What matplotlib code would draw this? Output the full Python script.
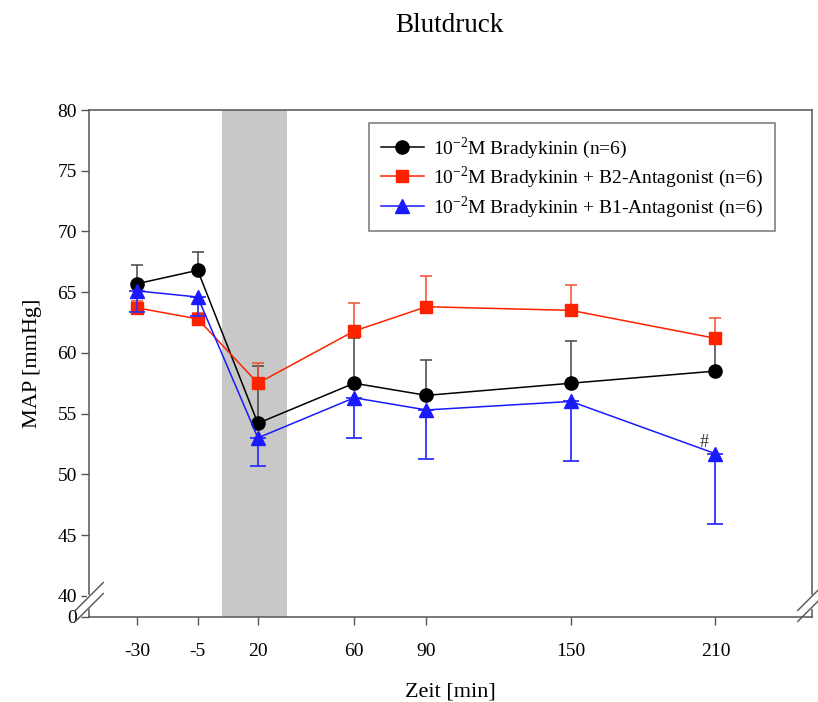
import matplotlib
matplotlib.use("Agg")
from matplotlib import pyplot as plt

plt.rcParams['font.family'] = ['Liberation Serif', 'DejaVu Serif']
plt.rcParams['mathtext.fontset'] = 'custom'
plt.rcParams['mathtext.rm'] = 'Liberation Serif'

# time points [min]
zeit = [-30, -5, 20, 60, 90, 150, 210]

# MAP [mmHg], mean values
bk = [65.7, 66.8, 54.2, 57.5, 56.5, 57.5, 58.5]
bk_b2 = [63.7, 62.8, 57.5, 61.8, 63.8, 63.5, 61.2]
bk_b1 = [65.1, 64.6, 53.0, 56.3, 55.3, 56.0, 51.7]

# one-sided error bars
bk_err = [1.5, 1.5, 4.7, 3.7, 2.9, 3.5, 2.8]      # upwards
bk_b2_err = [0.6, 0.5, 1.7, 2.3, 2.5, 2.1, 1.7]   # upwards
bk_b1_err = [1.7, 1.6, 2.3, 3.3, 4.0, 4.9, 5.8]   # downwards

zero = [0] * len(zeit)

labels = ['10$^{-2}$M Bradykinin (n=6)',
          '10$^{-2}$M Bradykinin + B2-Antagonist (n=6)',
          '10$^{-2}$M Bradykinin + B1-Antagonist (n=6)']

# y axis is broken between 0 and 40
y_bottom = 38.25

fig = plt.figure(figsize=(8.18, 7.02), dpi=100)
ax = fig.add_axes([0.1092, 0.1211, 0.8831, 0.7222])

ax.axvspan(5, 32, color='#c8c8c8', zorder=0, lw=0)

c1 = ax.errorbar(zeit, bk, yerr=[zero, bk_err], color='black', ecolor='#444444',
                 marker='o', ms=9.5, lw=1.1, elinewidth=1.1, capsize=4, capthick=1.1,
                 zorder=3)
c2 = ax.errorbar(zeit, bk_b2, yerr=[zero, bk_b2_err], color='#ff2200', ecolor='#f05030',
                 marker='s', ms=8.5, lw=1.1, elinewidth=1.1, capsize=4, capthick=1.1,
                 zorder=4)
c3 = ax.errorbar(zeit, bk_b1, yerr=[bk_b1_err, zero], color='#1a1aff', ecolor='#3030ff',
                 marker='^', ms=9.5, lw=1.1, elinewidth=1.3, capsize=6, capthick=1.3,
                 zorder=5)

ax.annotate('#', xy=(zeit[-1], bk_b1[-1]), xytext=(-8, 2), textcoords='offset points',
            ha='center', va='bottom', fontsize=13, color='#333333')

ax.set_xlim(-50, 250)
ax.set_ylim(y_bottom, 80)
ax.set_xticks(zeit)
ax.set_xticklabels([str(t) for t in zeit])
yt = [y_bottom] + list(range(40, 81, 5))
ax.set_yticks(yt)
ax.set_yticklabels(['0'] + [str(v) for v in range(40, 81, 5)])
ax.tick_params(axis='both', direction='out', length=6, width=1, color='#555555',
               labelsize=14)
ax.tick_params(axis='x', pad=13)
ax.tick_params(axis='y', pad=3)
for s in ax.spines.values():
    s.set_color('#555555')
    s.set_linewidth(1.1)

ax.set_xlabel('Zeit [min]', fontsize=16, labelpad=16)
ax.set_ylabel('MAP [mmHg]', fontsize=16, labelpad=11)

fig.text(0.549, 1 - 25 / 702, 'Blutdruck', ha='center', va='center', fontsize=19.5)

# break marks on both y spines
ax_h = 0.7222 * 702
ax_w = 0.8831 * 818
yc = 15 / ax_h
dy = 5.5 / ax_h
dx = 14 / ax_w
sy = 14 / ax_h
for xs in (0, 1):
    ax.plot([xs, xs], [yc - dy * 0.9, yc + dy * 0.9], transform=ax.transAxes,
            color='white', lw=3, clip_on=False, zorder=6)
    for off in (-dy, dy):
        ax.plot([xs - dx, xs + dx], [yc + off - sy, yc + off + sy],
                transform=ax.transAxes, color='#555555', lw=1, clip_on=False, zorder=7)

handles = [c1.lines[0], c2.lines[0], c3.lines[0]]
leg = ax.legend(handles, labels, loc='upper right', bbox_to_anchor=(0.949, 0.974),
                borderaxespad=0, fontsize=14, frameon=True, fancybox=False,
                edgecolor='#555555', handlelength=2.2, handletextpad=0.5,
                borderpad=0.6, labelspacing=0.2)
leg.get_frame().set_linewidth(1.1)

fig.savefig('out.png', dpi=100)
